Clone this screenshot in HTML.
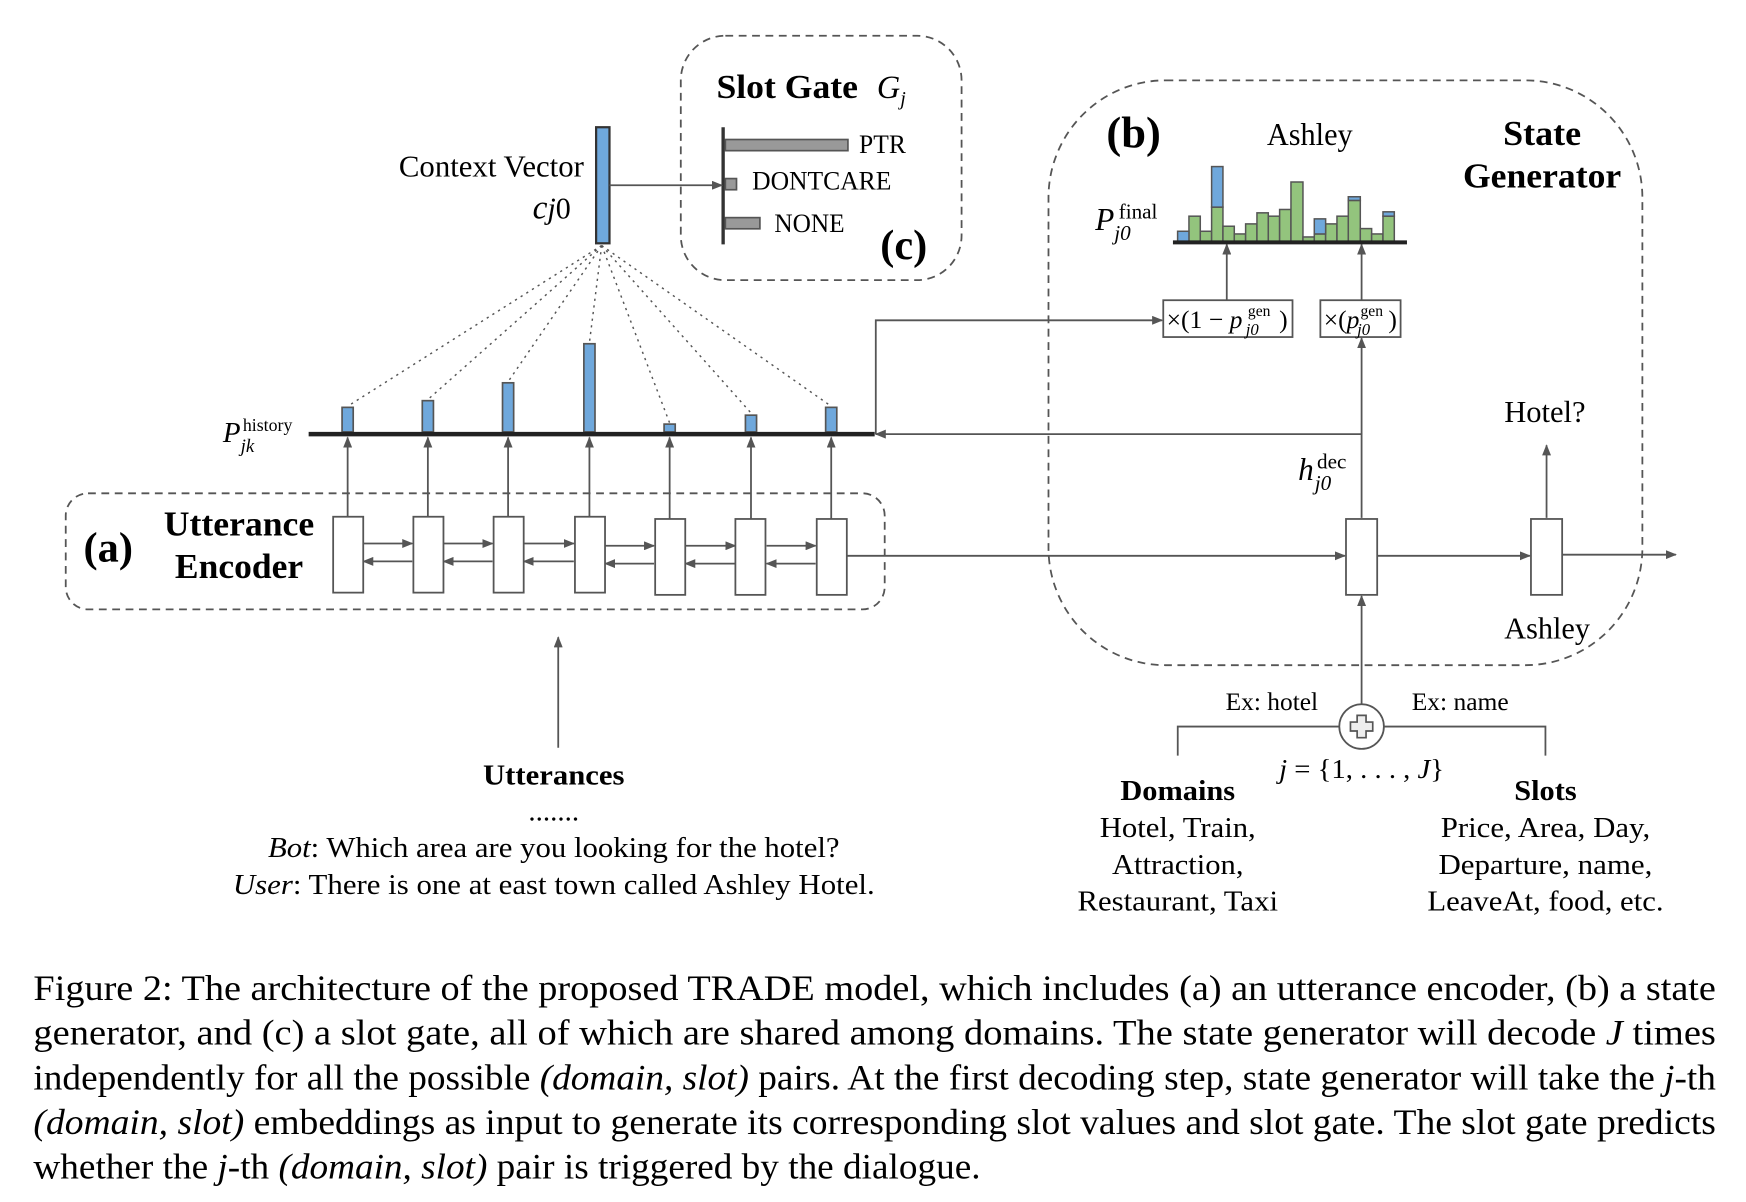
<!DOCTYPE html>
<html><head><meta charset="utf-8"><style>
html,body{margin:0;padding:0;background:#fff;}
#wrap{position:relative;width:1746px;height:1202px;overflow:hidden;}
svg{position:absolute;left:0;top:0;}
</style></head><body><div id="wrap">
<svg width="1746" height="1202" viewBox="0 0 1567 1077" preserveAspectRatio="none" font-family="Liberation Serif, serif">
<defs>
<marker id="ar" markerWidth="10" markerHeight="8" refX="9" refY="4" orient="auto" markerUnits="userSpaceOnUse"><path d="M0,0 L10,4 L0,8 z" fill="#555"/></marker>
</defs>
<g fill="none" stroke="#555" stroke-width="1.6" stroke-dasharray="7,5">
<rect x="611" y="32" width="252" height="219" rx="40"/>
<rect x="59" y="442" width="735" height="104" rx="20"/>
<rect x="941" y="72" width="533" height="524" rx="105"/>
</g>
<text x="643" y="88" font-size="30" font-weight="bold" textLength="127" lengthAdjust="spacingAndGlyphs">Slot Gate</text>
<text x="787" y="88" font-size="29" font-style="italic">G<tspan font-size="18" dy="6">j</tspan></text>
<line x1="649" y1="114" x2="649" y2="219" stroke="#333" stroke-width="3"/>
<g fill="#999" stroke="#555" stroke-width="1.5">
<rect x="651" y="125" width="110" height="10"/>
<rect x="651" y="160" width="10" height="10"/>
<rect x="651" y="195" width="31" height="10"/>
</g>
<g font-size="24">
<text x="771" y="137" textLength="42" lengthAdjust="spacingAndGlyphs">PTR</text>
<text x="675" y="170" textLength="125" lengthAdjust="spacingAndGlyphs">DONTCARE</text>
<text x="695" y="208" textLength="63" lengthAdjust="spacingAndGlyphs">NONE</text>
</g>
<text x="790" y="232" font-size="38" font-weight="bold">(c)</text>
<text x="358" y="158" font-size="27" textLength="166" lengthAdjust="spacingAndGlyphs">Context Vector</text>
<text x="478" y="196" font-size="30" font-style="italic">c<tspan font-size="27">j</tspan><tspan font-style="normal" font-size="27">0</tspan></text>
<rect x="535" y="114" width="12" height="104" fill="#6fa8dc" stroke="#333" stroke-width="2"/>
<line x1="547" y1="166" x2="648" y2="166" stroke="#555" stroke-width="1.6" marker-end="url(#ar)"/>
<g stroke="#555" stroke-width="1.3" stroke-dasharray="2,4">
<line x1="540" y1="220" x2="312" y2="364"/>
<line x1="540" y1="220" x2="384" y2="358"/>
<line x1="540" y1="220" x2="456" y2="342"/>
<line x1="540" y1="220" x2="529" y2="307"/>
<line x1="540" y1="220" x2="601" y2="379"/>
<line x1="540" y1="220" x2="674" y2="370"/>
<line x1="540" y1="220" x2="746" y2="364"/>
</g>
<g fill="#6fa8dc" stroke="#555" stroke-width="1.5">
<rect x="307" y="365" width="10" height="22"/>
<rect x="379" y="359" width="10" height="28"/>
<rect x="451" y="343" width="10" height="44"/>
<rect x="524" y="308" width="10" height="79"/>
<rect x="596" y="380" width="10" height="7"/>
<rect x="669" y="372" width="10" height="15"/>
<rect x="741" y="365" width="10" height="22"/>
</g>
<line x1="277" y1="389" x2="785" y2="389" stroke="#222" stroke-width="4"/>
<text x="200" y="396" font-size="26" font-style="italic">P</text>
<text x="218" y="386" font-size="16">history</text>
<text x="216" y="405" font-size="17" font-style="italic">jk</text>
<text x="75" y="503" font-size="38" font-weight="bold">(a)</text>
<text x="147" y="480" font-size="31" font-weight="bold" textLength="135" lengthAdjust="spacingAndGlyphs">Utterance</text>
<text x="157" y="518" font-size="31" font-weight="bold" textLength="115" lengthAdjust="spacingAndGlyphs">Encoder</text>
<g stroke="#555" stroke-width="1.6" fill="none">
<line x1="312" y1="463" x2="312" y2="392" marker-end="url(#ar)"/>
<line x1="384" y1="463" x2="384" y2="392" marker-end="url(#ar)"/>
<line x1="456" y1="463" x2="456" y2="392" marker-end="url(#ar)"/>
<line x1="529" y1="463" x2="529" y2="392" marker-end="url(#ar)"/>
<line x1="601" y1="465" x2="601" y2="392" marker-end="url(#ar)"/>
<line x1="674" y1="465" x2="674" y2="392" marker-end="url(#ar)"/>
<line x1="746" y1="465" x2="746" y2="392" marker-end="url(#ar)"/>
<line x1="326" y1="487" x2="370" y2="487" marker-end="url(#ar)"/>
<line x1="398" y1="487" x2="442" y2="487" marker-end="url(#ar)"/>
<line x1="470" y1="487" x2="515" y2="487" marker-end="url(#ar)"/>
<line x1="543" y1="489" x2="587" y2="489" marker-end="url(#ar)"/>
<line x1="615" y1="489" x2="660" y2="489" marker-end="url(#ar)"/>
<line x1="688" y1="489" x2="732" y2="489" marker-end="url(#ar)"/>
<line x1="370" y1="503" x2="326" y2="503" marker-end="url(#ar)"/>
<line x1="442" y1="503" x2="398" y2="503" marker-end="url(#ar)"/>
<line x1="515" y1="503" x2="470" y2="503" marker-end="url(#ar)"/>
<line x1="587" y1="505" x2="543" y2="505" marker-end="url(#ar)"/>
<line x1="660" y1="505" x2="615" y2="505" marker-end="url(#ar)"/>
<line x1="732" y1="505" x2="688" y2="505" marker-end="url(#ar)"/>
<line x1="760" y1="498" x2="1207" y2="498" marker-end="url(#ar)"/>
<line x1="1236" y1="498" x2="1373" y2="498" marker-end="url(#ar)"/>
<line x1="1402" y1="497" x2="1504" y2="497" marker-end="url(#ar)"/>
<line x1="1388" y1="464" x2="1388" y2="399" marker-end="url(#ar)"/>
<polyline points="1222,464 1222,389 786,389" marker-end="url(#ar)"/>
<line x1="1222" y1="389" x2="1222" y2="303" marker-end="url(#ar)"/>
<polyline points="786,389 786,287 1043,287" marker-end="url(#ar)"/>
<line x1="1101" y1="269" x2="1101" y2="219" marker-end="url(#ar)"/>
<line x1="1222" y1="269" x2="1222" y2="219" marker-end="url(#ar)"/>
<line x1="1222" y1="631" x2="1222" y2="534" marker-end="url(#ar)"/>
<polyline points="1057,677 1057,651 1202,651"/>
<polyline points="1242,651 1387,651 1387,677"/>
<line x1="501" y1="670" x2="501" y2="571" marker-end="url(#ar)"/>
</g>
<g fill="#fff" stroke="#555" stroke-width="1.6">
<rect x="299" y="463" width="27" height="68"/>
<rect x="371" y="463" width="27" height="68"/>
<rect x="443" y="463" width="27" height="68"/>
<rect x="516" y="463" width="27" height="68"/>
<rect x="588" y="465" width="27" height="68"/>
<rect x="660" y="465" width="27" height="68"/>
<rect x="733" y="465" width="27" height="68"/>
<rect x="1208" y="465" width="28" height="68"/>
<rect x="1374" y="465" width="28" height="68"/>
<rect x="1044" y="269" width="116" height="33"/>
<rect x="1185" y="269" width="72" height="33"/>
<circle cx="1222" cy="651" r="20"/>
</g>
<path d="M1218,641 h8 v6 h6 v8 h-6 v6 h-8 v-6 h-6 v-8 h6 z" fill="#eee" stroke="#555" stroke-width="1.5"/>
<text x="1047" y="294" font-size="23">×(1 − <tspan font-style="italic">p</tspan></text>
<text x="1120" y="283" font-size="14">gen</text>
<text x="1118" y="300" font-size="15" font-style="italic">j0</text>
<text x="1148" y="294" font-size="23">)</text>
<text x="1188" y="294" font-size="23">×(<tspan font-style="italic">p</tspan></text>
<text x="1221" y="283" font-size="14">gen</text>
<text x="1218" y="300" font-size="15" font-style="italic">j0</text>
<text x="1246" y="294" font-size="23">)</text>
<text x="993" y="132" font-size="40" font-weight="bold">(b)</text>
<text x="1137" y="130" font-size="28" textLength="77" lengthAdjust="spacingAndGlyphs">Ashley</text>
<text x="1349" y="130" font-size="31" font-weight="bold" textLength="70" lengthAdjust="spacingAndGlyphs">State</text>
<text x="1313" y="168" font-size="31" font-weight="bold" textLength="142" lengthAdjust="spacingAndGlyphs">Generator</text>
<text x="983" y="206" font-size="28" font-style="italic">P</text>
<text x="1004" y="196" font-size="19">final</text>
<text x="1000" y="215" font-size="19" font-style="italic">j0</text>
<g transform="scale(0.8977,0.9010) translate(1050,100) scale(0.3333)" stroke="#555" stroke-width="4.5">
<g fill="#93c47d">
<rect x="416" y="345" width="34" height="77"/><rect x="450" y="390" width="34" height="32"/>
<rect x="484" y="318" width="34" height="104"/><rect x="518" y="375" width="34" height="47"/>
<rect x="552" y="398" width="34" height="24"/><rect x="586" y="368" width="34" height="54"/>
<rect x="620" y="335" width="34" height="87"/><rect x="654" y="345" width="34" height="77"/>
<rect x="688" y="325" width="34" height="97"/><rect x="722" y="243" width="36" height="179"/>
<rect x="758" y="407" width="34" height="15"/><rect x="792" y="398" width="34" height="24"/>
<rect x="826" y="368" width="34" height="54"/><rect x="860" y="345" width="34" height="77"/>
<rect x="894" y="298" width="36" height="124"/><rect x="930" y="382" width="34" height="40"/>
<rect x="964" y="398" width="34" height="24"/><rect x="998" y="345" width="34" height="77"/>
</g>
<g fill="#6fa8dc">
<rect x="382" y="390" width="34" height="32"/><rect x="484" y="197" width="34" height="121"/>
<rect x="792" y="353" width="34" height="45"/><rect x="894" y="287" width="36" height="11"/>
<rect x="998" y="332" width="34" height="13"/>
</g>
<line x1="368" y1="423" x2="1070" y2="423" stroke="#222" stroke-width="12"/>
</g>
<text x="1165" y="430" font-size="28" font-style="italic">h</text>
<text x="1182" y="420" font-size="19">dec</text>
<text x="1180" y="439" font-size="19" font-style="italic">j0</text>
<text x="1350" y="378" font-size="27" textLength="73" lengthAdjust="spacingAndGlyphs">Hotel?</text>
<text x="1350" y="572" font-size="27" textLength="77" lengthAdjust="spacingAndGlyphs">Ashley</text>
<g font-size="23">
<text x="1100" y="636" textLength="83" lengthAdjust="spacingAndGlyphs">Ex: hotel</text>
<text x="1267" y="636" textLength="87" lengthAdjust="spacingAndGlyphs">Ex: name</text>
</g>
<text x="1148" y="697" font-size="25" textLength="148" lengthAdjust="spacingAndGlyphs"><tspan font-style="italic">j</tspan> = {1, . . . , <tspan font-style="italic">J</tspan>}</text>
<g font-size="26" text-anchor="middle">
<text x="1057" y="717" font-weight="bold" textLength="103" lengthAdjust="spacingAndGlyphs">Domains</text>
<text x="1057" y="750" textLength="140" lengthAdjust="spacingAndGlyphs">Hotel, Train,</text>
<text x="1057" y="783" textLength="118" lengthAdjust="spacingAndGlyphs">Attraction,</text>
<text x="1057" y="816" textLength="180" lengthAdjust="spacingAndGlyphs">Restaurant, Taxi</text>
<text x="1387" y="717" font-weight="bold" textLength="56" lengthAdjust="spacingAndGlyphs">Slots</text>
<text x="1387" y="750" textLength="188" lengthAdjust="spacingAndGlyphs">Price, Area, Day,</text>
<text x="1387" y="783" textLength="192" lengthAdjust="spacingAndGlyphs">Departure, name,</text>
<text x="1387" y="816" textLength="212" lengthAdjust="spacingAndGlyphs">LeaveAt, food, etc.</text>
<text x="497" y="703" font-weight="bold" textLength="127" lengthAdjust="spacingAndGlyphs">Utterances</text>
<text x="497" y="735">.......</text>
<text x="497" y="768" textLength="513" lengthAdjust="spacingAndGlyphs"><tspan font-style="italic">Bot</tspan>: Which area are you looking for the hotel?</text>
<text x="497" y="801" textLength="576" lengthAdjust="spacingAndGlyphs"><tspan font-style="italic">User</tspan>: There is one at east town called Ashley Hotel.</text>
</g>
<g font-size="32">
<text x="30" y="896" textLength="1510" lengthAdjust="spacingAndGlyphs">Figure 2: The architecture of the proposed TRADE model, which includes (a) an utterance encoder, (b) a state</text>
<text x="30" y="936" textLength="1510" lengthAdjust="spacingAndGlyphs">generator, and (c) a slot gate, all of which are shared among domains.  The state generator will decode <tspan font-style="italic">J</tspan> times</text>
<text x="30" y="976" textLength="1510" lengthAdjust="spacingAndGlyphs">independently for all the possible <tspan font-style="italic">(domain, slot)</tspan> pairs. At the first decoding step, state generator will take the <tspan font-style="italic">j</tspan>-th</text>
<text x="30" y="1016" textLength="1510" lengthAdjust="spacingAndGlyphs"><tspan font-style="italic">(domain, slot)</tspan> embeddings as input to generate its corresponding slot values and slot gate.  The slot gate predicts</text>
<text x="30" y="1056" textLength="850" lengthAdjust="spacingAndGlyphs">whether the <tspan font-style="italic">j</tspan>-th <tspan font-style="italic">(domain, slot)</tspan> pair is triggered by the dialogue.</text>
</g>
</svg>
</div></body></html>
